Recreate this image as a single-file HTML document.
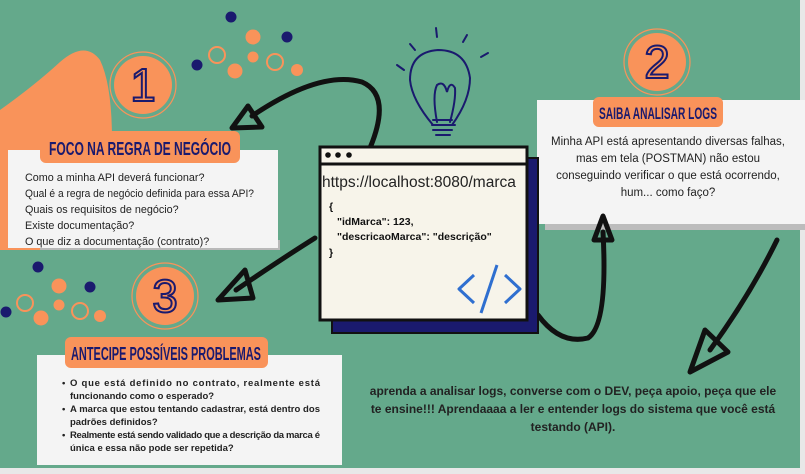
<!DOCTYPE html>
<html><head><meta charset="utf-8"><style>
html,body{margin:0;padding:0;}
body{width:805px;height:474px;overflow:hidden;background:#64a98b;font-family:"Liberation Sans",sans-serif;}
svg{display:block}
.t{font-family:"Liberation Sans",sans-serif;fill:#222;}
.h{font-family:"Liberation Sans",sans-serif;font-weight:bold;fill:#1a1a6e;}
</style></head><body>
<svg width="805" height="474" viewBox="0 0 805 474" xmlns="http://www.w3.org/2000/svg">
<rect width="805" height="474" fill="#64a98b"/>
<rect x="0" y="468" width="805" height="6" fill="#e8e8e8"/>
<rect x="800" y="0" width="5" height="474" fill="#e8e8e8"/>
<!-- orange blob -->
<path d="M0 110 Q35 85 60 62 Q85 40 100 60 Q112 85 112 140 L112 250 L0 250 Z" fill="#f9935a"/>
<g fill="#1a1a6e"><circle cx="231" cy="17" r="5.5"/><circle cx="287" cy="37" r="5.5"/><circle cx="197" cy="65" r="5.5"/>
<circle cx="38" cy="267" r="5.5"/><circle cx="90" cy="287" r="5.5"/><circle cx="6" cy="312" r="5.5"/></g>
<g fill="#f9935a"><circle cx="253" cy="37" r="7.5"/><circle cx="253" cy="57" r="5.5"/><circle cx="235" cy="71" r="7.5"/><circle cx="297" cy="70" r="6"/>
<circle cx="59" cy="286" r="7.5"/><circle cx="59" cy="305" r="5.5"/><circle cx="41" cy="318" r="7.5"/><circle cx="100" cy="316" r="6"/></g>
<g fill="none" stroke="#f9935a" stroke-width="2"><circle cx="217" cy="55" r="8"/><circle cx="275" cy="62" r="8"/><circle cx="25" cy="303" r="8"/><circle cx="80" cy="311" r="8"/></g>
<g fill="#f9935a"><circle cx="143" cy="85" r="29"/><circle cx="165" cy="296" r="29"/><circle cx="657" cy="62" r="29"/></g>
<g fill="none" stroke="#f9935a" stroke-width="1.2"><circle cx="143" cy="85" r="33"/><circle cx="165" cy="296" r="33"/><circle cx="657" cy="62" r="33"/></g>
<g font-family="Liberation Sans" font-size="46" fill="none" stroke="#1a1a6e" stroke-width="2" text-anchor="middle">
<text x="143" y="101">1</text><text x="165" y="312">3</text><text x="657" y="78">2</text></g>
<rect x="40" y="240" width="240" height="10" fill="#b9b9b9"/>
<rect x="8" y="150" width="270" height="98" fill="#f4f4f4"/>
<rect x="37" y="355" width="305" height="110" fill="#f4f4f4"/>
<rect x="545" y="222" width="260" height="8" fill="#bcbcbc"/>
<rect x="537" y="100" width="268" height="124" fill="#f4f4f4"/>
<rect x="40" y="131" width="200" height="32" rx="6" fill="#f9935a"/>
<text class="h" x="140" y="155" font-size="18" text-anchor="middle" textLength="182" lengthAdjust="spacingAndGlyphs">FOCO NA REGRA DE NEGÓCIO</text>
<rect x="65" y="337" width="203" height="31" rx="6" fill="#f9935a"/>
<text class="h" x="166" y="360" font-size="18" text-anchor="middle" textLength="190" lengthAdjust="spacingAndGlyphs">ANTECIPE POSSÍVEIS PROBLEMAS</text>
<rect x="593" y="97" width="130" height="30" rx="6" fill="#f9935a"/>
<text class="h" x="658" y="119" font-size="17" text-anchor="middle" textLength="118" lengthAdjust="spacingAndGlyphs">SAIBA ANALISAR LOGS</text>
<g class="t" font-size="10.8">
<text x="25" y="181">Como a minha API deverá funcionar?</text>
<text x="25" y="197" textLength="229" lengthAdjust="spacingAndGlyphs">Qual é a regra de negócio definida para essa API?</text>
<text x="25" y="213">Quais os requisitos de negócio?</text>
<text x="25" y="229">Existe documentação?</text>
<text x="25" y="245">O que diz a documentação (contrato)?</text>
</g>
<g class="t" font-size="9.5" font-weight="bold">
<text x="62" y="386">•</text><text x="70" y="386" textLength="250" lengthAdjust="spacing">O que está definido no contrato, realmente está</text>
<text x="70" y="399">funcionando como o esperado?</text>
<text x="62" y="412">•</text><text x="70" y="412" textLength="250" lengthAdjust="spacing">A marca que estou tentando cadastrar, está dentro dos</text>
<text x="70" y="425">padrões definidos?</text>
<text x="62" y="438">•</text><text x="70" y="438" textLength="250" lengthAdjust="spacing">Realmente está sendo validado que a descrição da marca é</text>
<text x="70" y="451">única e essa não pode ser repetida?</text>
</g>
<g class="t" font-size="11.5" text-anchor="middle">
<text x="668" y="145">Minha API está apresentando diversas falhas,</text>
<text x="668" y="162">mas em tela (POSTMAN) não estou</text>
<text x="668" y="179">conseguindo verificar o que está ocorrendo,</text>
<text x="668" y="196">hum... como faço?</text>
</g>
<g class="t" font-size="12" font-weight="bold" text-anchor="middle">
<text x="573" y="395">aprenda a analisar logs, converse com o DEV, peça apoio, peça que ele</text>
<text x="573" y="413">te ensine!!! Aprendaaaa a ler e entender logs do sistema que você está</text>
<text x="573" y="431">testando (API).</text>
</g>
<g fill="none" stroke="#111" stroke-width="5" stroke-linecap="round" stroke-linejoin="round">
<path d="M370 148 Q392 95 362 82 Q320 70 252 116"/>
<path d="M248 106 L232 128 L262 127 Z"/>
<path d="M315 238 Q280 260 236 290"/>
<path d="M245 270 L218 300 L253 298 Z"/>
<path d="M538 315 Q560 345 588 338 Q608 325 603 232"/>
<path d="M594 240 L603 216 L612 240 Z"/>
<path d="M777 240 Q750 295 710 350"/>
<path d="M705 330 L690 372 L728 352 Z"/>
</g>
<rect x="332" y="158" width="206" height="175" fill="#1a1a6e" stroke="#111" stroke-width="2"/>
<rect x="320" y="147" width="207" height="173" fill="#f7f4ea" stroke="#111" stroke-width="3"/>
<line x1="320" y1="164" x2="527" y2="164" stroke="#111" stroke-width="3"/>
<g fill="#111"><circle cx="328" cy="155" r="2.8"/><circle cx="338" cy="155" r="2.8"/><circle cx="349" cy="155" r="2.8"/></g>
<text x="322" y="187" font-size="15.5" fill="#222" font-family="Liberation Sans">https://localhost:8080/marca</text>
<g font-size="10.5" font-weight="bold" fill="#111" font-family="Liberation Sans">
<text x="329" y="210">{</text>
<text x="337" y="225">"idMarca": 123,</text>
<text x="337" y="240">"descricaoMarca": "descrição"</text>
<text x="329" y="256">}</text>
</g>
<g fill="none" stroke="#2f6fd0" stroke-width="3" stroke-linejoin="round">
<path d="M474 275 L459 289 L474 303"/><path d="M505 275 L520 289 L505 303"/><path d="M497 265 L481 313"/>
</g>
<g fill="none" stroke="#1a1a6e" stroke-width="2" stroke-linecap="round">
<path d="M433 125 Q412 100 410 80 Q410 52 438 50 Q466 50 470 78 Q470 100 452 125 Z"/>
<path d="M437 122 Q432 95 437 85 Q444 80 447 92 Q450 80 455 88 Q456 100 450 122"/>
<path d="M433 120 L452 120 M432 125 L455 125 M433 130 L452 130 M436 135 L450 135"/>
<path d="M436 28 L437 37 M467 35 L463 42 M488 53 L481 57 M397 65 L404 70 M410 44 L415 50"/>
</g>
</svg>
</body></html>
